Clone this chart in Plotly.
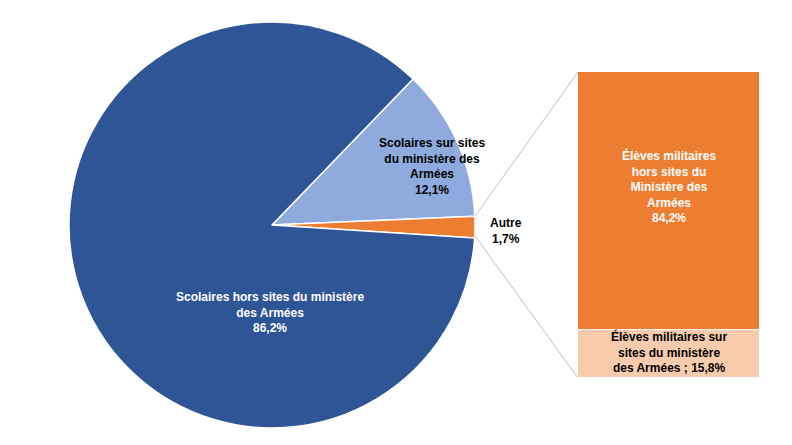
import plotly.graph_objects as go

# Pie data
pie_labels = ["Scolaires sur sites<br>du ministère des<br>Armées", "Autre", "Scolaires hors sites du ministère<br>des Armées"]
pie_values = [12.1, 1.7, 86.2]
pie_colors = ["#8FAADC", "#ED7D31", "#2F5597"]

# Bar (breakdown of "Autre")
bar_labels = ["Élèves militaires sur<br>sites du ministère<br>des Armées ; 15,8%", "Élèves militaires<br>hors sites du<br>Ministère des<br>Armées<br>84,2%"]
bar_values = [15.8, 84.2]
bar_colors = ["#F8CBAD", "#ED7D31"]

W, H = 792, 445
OX, OY = 8, 8  # page body margin
px_x = lambda x: (x - OX) / W
px_y = lambda y: 1 - (y - OY) / H

fig = go.Figure()
fig.add_trace(go.Pie(
    labels=pie_labels, values=pie_values, sort=False, direction="clockwise",
    rotation=44, textinfo="none", hoverinfo="label+value",
    marker=dict(colors=pie_colors, line=dict(color="white", width=1.5)),
    domain=dict(x=[px_x(69), px_x(475)], y=[px_y(428), px_y(22)]),
    showlegend=False,
))

for lab, val, col in zip(bar_labels, bar_values, bar_colors):
    fig.add_trace(go.Bar(
        x=["Autre"], y=[val], marker=dict(color=col, line=dict(color="white", width=1.5)),
        showlegend=False, hoverinfo="y",
    ))

font_b = dict(family="Liberation Sans, Arial", size=12, color="black")
font_w = dict(family="Liberation Sans, Arial", size=12, color="white")
ann = [
    dict(x=px_x(270), y=px_y(312), text="<b>Scolaires hors sites du ministère<br>des Armées<br>86,2%</b>", font=font_w),
    dict(x=px_x(432), y=px_y(166), text="<b>Scolaires sur sites<br>du ministère des<br>Armées<br>12,1%</b>", font=font_b),
    dict(x=px_x(506), y=px_y(231), text="<b>Autre<br>1,7%</b>", font=font_b),
    dict(x=px_x(669), y=px_y(186), text="<b>Élèves militaires<br>hors sites du<br>Ministère des<br>Armées<br>84,2%</b>", font=font_w),
    dict(x=px_x(669), y=px_y(352), text="<b>Élèves militaires sur<br>sites du ministère<br>des Armées ; 15,8%</b>", font=font_b),
]
for a in ann:
    a.update(xref="paper", yref="paper", showarrow=False, align="center",
             xanchor="center", yanchor="middle")

fig.update_layout(
    width=W, height=H, margin=dict(l=0, r=0, t=0, b=0),
    paper_bgcolor="white", plot_bgcolor="white",
    barmode="stack", bargap=0,
    xaxis=dict(domain=[px_x(578), px_x(760)], visible=False),
    yaxis=dict(domain=[px_y(378), px_y(72)], range=[0, 100], visible=False),
    annotations=ann,
    shapes=[
        dict(type="line", xref="paper", yref="paper", x0=px_x(475), y0=px_y(216), x1=px_x(578), y1=px_y(72),
             line=dict(color="#BFBFBF", width=1)),
        dict(type="line", xref="paper", yref="paper", x0=px_x(475), y0=px_y(236), x1=px_x(578), y1=px_y(378),
             line=dict(color="#BFBFBF", width=1)),
    ],
)

fig.write_html("out.html")
